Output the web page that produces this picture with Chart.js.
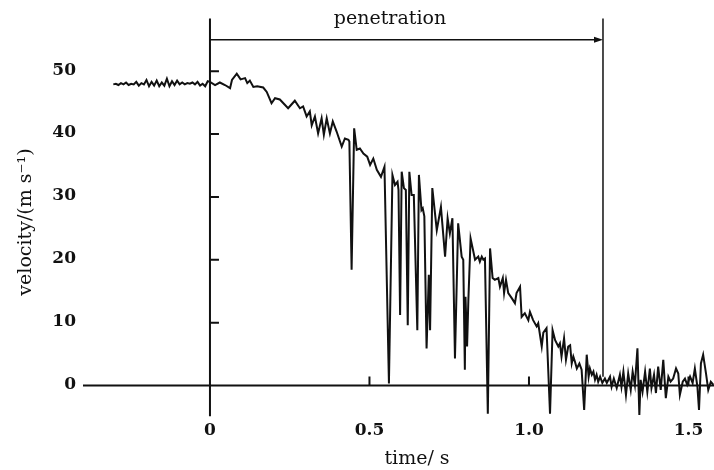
<!DOCTYPE html>
<html>
<head>
<meta charset="utf-8">
<script src="https://cdn.jsdelivr.net/npm/chart.js@4.4.1/dist/chart.umd.min.js"></script>
<style>
    html, body { margin: 0; padding: 0; background: #ffffff; }
    canvas { display: block; }
</style>
</head>
<body>
<canvas id="velocityChart" width="714" height="470"></canvas>
<script>
// before impact
const approachTime = [
    -0.303, -0.295, -0.287, -0.279, -0.271, -0.263, -0.255, -0.247, -0.239, -0.231,
    -0.223, -0.215, -0.207, -0.199, -0.191, -0.183, -0.175, -0.167, -0.159, -0.151,
    -0.143, -0.135, -0.127, -0.119, -0.111, -0.103, -0.095, -0.087, -0.079, -0.071,
    -0.063, -0.055, -0.047, -0.039, -0.031, -0.023, -0.015, -0.007,
];
const approachVelocity = [
    47.9, 48.0, 47.8, 48.1, 47.9, 48.2, 47.8, 48.0, 47.9, 48.3,
    47.7, 48.1, 47.9, 48.6, 47.6, 48.3, 47.7, 48.5, 47.6, 48.2,
    47.7, 48.8, 47.6, 48.4, 47.8, 48.5, 47.9, 48.2, 47.9, 48.1,
    48.0, 48.2, 47.9, 48.3, 47.7, 48.0, 47.6, 48.4,
];

// penetration
const penetrationTime = [
    0.000, 0.016, 0.031, 0.047, 0.063, 0.069, 0.084, 0.096, 0.110, 0.117,
    0.125, 0.136, 0.148, 0.167, 0.178, 0.193, 0.204, 0.219, 0.245, 0.266,
    0.282, 0.292, 0.303, 0.313, 0.319, 0.329, 0.339, 0.350, 0.357, 0.366,
    0.376, 0.385, 0.397, 0.413, 0.423, 0.434, 0.437, 0.444, 0.452, 0.460,
    0.470, 0.481, 0.493, 0.502, 0.512, 0.523, 0.536, 0.547, 0.561, 0.572,
    0.580, 0.588, 0.591, 0.596, 0.601, 0.608, 0.614, 0.620, 0.625, 0.632,
    0.639, 0.650, 0.655, 0.663, 0.667, 0.672, 0.679, 0.686, 0.690, 0.697,
    0.711, 0.724, 0.737, 0.745, 0.752, 0.760, 0.768, 0.778, 0.789, 0.794,
    0.799, 0.801, 0.806, 0.810, 0.817, 0.831, 0.841, 0.846, 0.852, 0.857,
    0.862, 0.871, 0.878, 0.886, 0.893, 0.904, 0.909, 0.918, 0.922, 0.928,
    0.935, 0.946, 0.956, 0.961, 0.972, 0.977, 0.987, 0.998, 1.003, 1.013,
    1.024, 1.029, 1.040, 1.045, 1.055, 1.066, 1.074, 1.082, 1.092, 1.097,
    1.102, 1.110, 1.116, 1.123, 1.129, 1.134, 1.139, 1.144, 1.150, 1.158,
    1.165, 1.173, 1.181, 1.187, 1.191, 1.197, 1.202, 1.207, 1.212, 1.217,
    1.223, 1.230,
];
const penetrationVelocity = [
    48.3, 47.8, 48.2, 47.8, 47.3, 48.6, 49.6, 48.7, 48.9, 48.1,
    48.5, 47.5, 47.6, 47.4, 46.7, 44.9, 45.7, 45.5, 44.1, 45.3,
    44.1, 44.4, 42.8, 43.6, 41.4, 42.8, 40.1, 42.5, 39.9, 42.5,
    40.1, 42.0, 40.4, 38.0, 39.3, 39.1, 38.8, 18.4, 40.9, 37.5,
    37.7, 36.9, 36.4, 35.1, 36.1, 34.3, 33.2, 34.8, 0.3, 33.5,
    31.9, 32.4, 31.1, 11.2, 34.0, 31.4, 31.1, 9.6, 34.0, 30.3,
    30.3, 8.8, 33.5, 27.9, 28.2, 26.9, 5.9, 17.6, 8.8, 31.4,
    24.7, 28.4, 20.5, 26.6, 24.2, 26.6, 4.3, 25.8, 20.5, 20.0,
    2.5, 14.1, 6.2, 13.6, 23.4, 20.0, 20.5, 19.7, 20.5, 20.0,
    20.2, -4.5, 21.8, 17.1, 16.8, 17.1, 15.7, 17.1, 14.7, 16.8,
    14.7, 13.9, 13.1, 14.7, 15.7, 10.9, 11.5, 10.4, 11.7, 10.4,
    9.4, 9.9, 6.2, 8.4, 9.1, -4.5, 8.8, 7.2, 6.2, 6.7,
    4.6, 7.5, 4.1, 6.2, 6.4, 3.5, 4.6, 3.8, 2.7, 3.5,
    2.5, -3.9, 4.9, 1.4, 2.7, 1.7, 2.2, 0.9, 1.7, 0.6,
    1.4, 0.4,
];

// after penetration
const restTime = [
    1.238, 1.244, 1.254, 1.259, 1.266, 1.275, 1.285, 1.290, 1.296, 1.304,
    1.311, 1.319, 1.325, 1.332, 1.340, 1.346, 1.350, 1.356, 1.364, 1.371,
    1.379, 1.384, 1.392, 1.398, 1.405, 1.413, 1.421, 1.429, 1.437, 1.444,
    1.452, 1.461, 1.468, 1.473, 1.482, 1.489, 1.496, 1.505, 1.513, 1.520,
    1.528, 1.533, 1.539, 1.546, 1.555, 1.562, 1.570, 1.578,
];
const restVelocity = [
    1.1, 0.4, 1.4, -0.2, 1.1, -0.4, 1.7, -0.2, 2.2, -1.5,
    1.9, -0.7, 2.2, 0.1, 5.9, -4.7, 0.9, -1.0, 2.2, -1.0,
    2.7, -0.4, 1.7, -1.2, 3.0, -0.7, 4.1, -2.0, 1.4, 0.6,
    1.1, 2.7, 1.9, -1.5, 0.6, 1.1, 0.1, 1.4, 0.4, 2.7,
    -0.2, -3.9, 3.5, 4.9, 1.9, -0.7, 0.6, 0.1,
];

const xTicks = [0.5, 1.0, 1.5];
const xTickLabels = ['0', '0.5', '1.0', '1.5'];
const xLabelValues = [0, 0.5, 1.0, 1.5];
const yTicks = [0, 10, 20, 30, 40, 50];

const penetrationEnd = 1.232;
const arrowLevel = 55;
const axisTop = 58.4;
const axisBottom = -4.9;

const toPoints = (times, values) => times.map((t, i) => ({ x: t, y: values[i] }));

const tracePoints = [
    ...toPoints(approachTime, approachVelocity),
    ...toPoints(penetrationTime, penetrationVelocity),
    ...toPoints(restTime, restVelocity),
];

const ink = '#111111';
const serif = '"DejaVu Serif", "Liberation Serif", serif';

const axesPlugin = {
    id: 'paperAxes',
    beforeDatasetsDraw(chart) {
        const { ctx, scales: { x, y } } = chart;
        const px = (v) => x.getPixelForValue(v);
        const py = (v) => y.getPixelForValue(v);

        ctx.save();
        ctx.strokeStyle = ink;
        ctx.lineCap = 'butt';

        // axis lines
        ctx.lineWidth = 2;
        ctx.beginPath();
        ctx.moveTo(x.left, py(0));
        ctx.lineTo(x.right, py(0));
        ctx.moveTo(px(0), py(axisTop));
        ctx.lineTo(px(0), py(axisBottom));
        ctx.stroke();

        // y ticks point right from the axis
        ctx.beginPath();
        yTicks.forEach((v) => {
            if (v === 0) return;
            ctx.moveTo(px(0), py(v));
            ctx.lineTo(px(0) + 9, py(v));
        });
        // x ticks point up from the axis
        xTicks.forEach((v) => {
            ctx.moveTo(px(v), py(0));
            ctx.lineTo(px(v), py(0) - 9);
        });
        ctx.stroke();

        // penetration marker
        ctx.lineWidth = 1.5;
        ctx.beginPath();
        ctx.moveTo(px(penetrationEnd), py(axisTop));
        ctx.lineTo(px(penetrationEnd), py(1.4));
        ctx.moveTo(px(0), py(arrowLevel));
        ctx.lineTo(px(penetrationEnd) - 6, py(arrowLevel));
        ctx.stroke();

        ctx.fillStyle = ink;
        ctx.beginPath();
        ctx.moveTo(px(penetrationEnd), py(arrowLevel));
        ctx.lineTo(px(penetrationEnd) - 9, py(arrowLevel) - 3);
        ctx.lineTo(px(penetrationEnd) - 9, py(arrowLevel) + 3);
        ctx.closePath();
        ctx.fill();

        // tick labels
        ctx.font = `bold 17px ${serif}`;
        ctx.textAlign = 'right';
        ctx.textBaseline = 'middle';
        yTicks.forEach((v) => {
            ctx.fillText(String(v), 76, py(v) - 1);
        });

        ctx.textAlign = 'center';
        xLabelValues.forEach((v, i) => {
            ctx.fillText(xTickLabels[i], px(v), 431);
        });

        // titles
        ctx.font = `19px ${serif}`;
        ctx.fillText('time/ s', 417, 459);
        ctx.fillText('penetration', 390, 19);

        ctx.save();
        ctx.translate(26, 222);
        ctx.rotate(-Math.PI / 2);
        ctx.fillText('velocity/(m s\u207B\u00B9)', 0, 0);
        ctx.restore();

        ctx.restore();
    },
};

new Chart(document.getElementById('velocityChart'), {
    type: 'scatter',

    data: {
        datasets: [
            {
                data: tracePoints,
                showLine: true,
                borderColor: ink,
                borderWidth: 2,
                pointRadius: 0,
                tension: 0,
                clip: false,
            },
        ],
    },

    options: {
        responsive: false,
        animation: false,
        devicePixelRatio: 1,

        layout: {
            padding: { left: 83, right: 0, top: 18, bottom: 50 },
        },

        plugins: {
            legend: { display: false },
            tooltip: { enabled: false },
        },

        scales: {
            x: {
                type: 'linear',
                display: false,
                min: -0.398,
                max: 1.58,
            },

            y: {
                type: 'linear',
                display: false,
                min: -5.49,
                max: 58.46,
            },
        },
    },

    plugins: [axesPlugin],
});
</script>
</body>
</html>
